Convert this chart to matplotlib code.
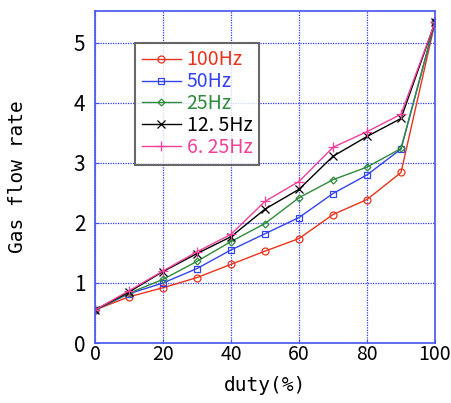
import numpy as np
import matplotlib
matplotlib.use("Agg")
import matplotlib.pyplot as plt
from matplotlib.ticker import MultipleLocator

plt.rcParams['font.family'] = ['Noto Sans CJK JP', 'DejaVu Sans']

# ── Data ───────────────────────────────────────────────────────────────────────
duty = [0, 10, 20, 30, 40, 50, 60, 70, 80, 90, 100]
flow_100hz = [0.55, 0.77, 0.92, 1.09, 1.31, 1.53, 1.74, 2.14, 2.39, 2.84, 5.34]
flow_50hz  = [0.55, 0.82, 1.00, 1.24, 1.55, 1.82, 2.09, 2.49, 2.80, 3.23, 5.34]
flow_25hz  = [0.55, 0.83, 1.06, 1.36, 1.69, 1.99, 2.42, 2.72, 2.93, 3.24, 5.34]
flow_12hz  = [0.55, 0.85, 1.19, 1.49, 1.77, 2.23, 2.56, 3.11, 3.44, 3.74, 5.34]
flow_6hz   = [0.55, 0.87, 1.20, 1.52, 1.81, 2.36, 2.69, 3.26, 3.52, 3.81, 5.34]
labels = ["100Hz", "50Hz", "25Hz", "12. 5Hz", "6. 25Hz"]
# ───────────────────────────────────────────────────────────────────────────────

styles = [
    dict(color="#e8341c", marker="o", mfc="none", ms=5),
    dict(color="#3344ee", marker="s", mfc="none", ms=5),
    dict(color="#2e8b3a", marker="D", mfc="none", ms=3.5),
    dict(color="black", marker="x", ms=5.5),
    dict(color="#f0409a", marker="+", ms=7.5),
]
series = [flow_100hz, flow_50hz, flow_25hz, flow_12hz, flow_6hz]

fig = plt.figure(figsize=(4.51, 4.03), dpi=100)
ax = fig.add_axes([95 / 451, 1 - 343 / 403, 340 / 451, 332 / 403])

for y, lab, st in zip(series, labels, styles):
    ax.plot(duty, y, lw=1.0, label=lab, mew=0.9, **st)

ax.set_xlim(0, 100)
ax.set_ylim(0, 5.53)
ax.xaxis.set_major_locator(MultipleLocator(20))
ax.yaxis.set_major_locator(MultipleLocator(1))
ax.grid(True, color="#2a3cff", ls=(0, (1, 1)), lw=0.9)
for sp in ax.spines.values():
    sp.set_color("#4455ee")
    sp.set_linewidth(1.2)
ax.tick_params(direction="in", length=3, colors="#4455ee", labelcolor="black",
               labelsize=15)
ax.tick_params(axis="x", pad=1, labelsize=14)
ax.tick_params(axis="y", pad=7)

ax.set_xlabel("duty(%)", fontsize=14, family="DejaVu Sans Mono")
ax.set_ylabel("Gas flow rate", fontsize=14, family="DejaVu Sans Mono")
ax.xaxis.set_label_coords(0.5, -0.10)
ax.yaxis.set_label_coords(-0.2, 0.5)

leg = ax.legend(loc="upper left", bbox_to_anchor=(0.118, 0.905), borderaxespad=0,
                fontsize=14, frameon=True, fancybox=False, handlelength=2.0,
                handletextpad=0.3, labelspacing=0.05, borderpad=0.35)
leg.get_frame().set_edgecolor("#444444")
leg.get_frame().set_linewidth(1.5)
for txt, st in zip(leg.get_texts(), styles):
    txt.set_color(st["color"])

fig.savefig("out.png", dpi=100)
